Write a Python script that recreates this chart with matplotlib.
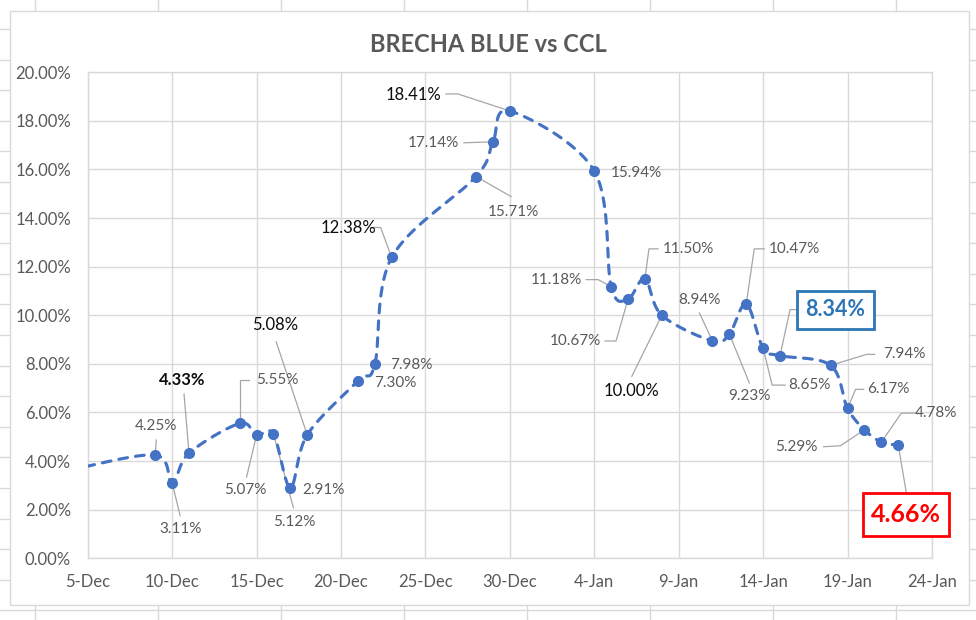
import datetime as dt
import numpy as np
import matplotlib
matplotlib.use('Agg')
import matplotlib.pyplot as plt
import matplotlib.dates as mdates
from matplotlib.lines import Line2D
from matplotlib.patches import Rectangle
from matplotlib.ticker import FuncFormatter, FixedLocator

plt.rcParams['font.family'] = ['Lato', 'DejaVu Sans']

# ---------------- data ----------------
TITLE = 'BRECHA BLUE vs CCL'
dates = ['2020-12-04', '2020-12-09', '2020-12-10', '2020-12-11', '2020-12-14',
         '2020-12-15', '2020-12-16', '2020-12-17', '2020-12-18', '2020-12-21',
         '2020-12-22', '2020-12-23', '2020-12-28', '2020-12-29', '2020-12-30',
         '2021-01-04', '2021-01-05', '2021-01-06', '2021-01-07', '2021-01-08',
         '2021-01-11', '2021-01-12', '2021-01-13', '2021-01-14', '2021-01-15',
         '2021-01-18', '2021-01-19', '2021-01-20', '2021-01-21', '2021-01-22']
values = [3.64, 4.25, 3.11, 4.33, 5.55,
          5.07, 5.12, 2.91, 5.08, 7.30,
          7.98, 12.38, 15.71, 17.14, 18.41,
          15.94, 11.18, 10.67, 11.50, 10.00,
          8.94, 9.23, 10.47, 8.65, 8.34,
          7.94, 6.17, 5.29, 4.78, 4.66]
x_start = '2020-12-05'
x_end = '2021-01-24'
x_tick_step_days = 5
y_ticks = [0, 2, 4, 6, 8, 10, 12, 14, 16, 18, 20]

# ---------------- label styles (pixel offsets from point, y down) ----------------
# (text_dx, text_dy, leader path, kind); None = no label
label_style = [
    None,
    (1, -29, [(1, -15), (0, 0)], 'gray'),
    (8, 46, [(8, 33), (0, 0)], 'gray'),
    (-7, -73, [(-5, -59), (0, 0)], 'bold'),
    (38, -43, [(9, -43), (0, -43), (0, 0)], 'gray'),
    (-11, 55, [(-10, 42), (0, 0)], 'gray'),
    (21, 88, [(20, 74), (0, 0)], 'gray'),
    (33, 2, None, 'gray'),
    (-32, -110, [(-31, -93), (0, 0)], 'black'),
    (37, 2, None, 'gray'),
    (37, 1, None, 'gray'),
    (-43, -29, [(-21, -30), (-11, -30), (0, 0)], 'black'),
    (37, 35, [(35, 20), (0, 0)], 'gray'),
    (-60, 1, [(-29, 1), (0, 0)], 'gray'),
    (-96, -16, [(-64, -17), (-52, -17), (0, 0)], 'black'),
    (42, 2, None, 'gray'),
    (-55, -7, [(-25, -7), (-13, -7), (0, 0)], 'gray'),
    (-53, 42, [(-23, 42), (-12, 42), (0, 0)], 'gray'),
    (43, -30, [(13, -30), (4, -30), (0, 0)], 'gray'),
    (-30, 76, [(-30, 61), (0, 0)], 'black'),
    (-13, -41, [(-13, -28), (0, 0)], 'gray'),
    (20, 62, [(20, 49), (0, 0)], 'gray'),
    (48, -55, [(18, -55), (8, -55), (0, 0)], 'gray'),
    (46, 37, [(22, 37), (9, 37), (0, 0)], 'gray'),
    (55, -46, [(17, -46), (10, -46), (0, 0)], 'bluebox'),
    (74, -11, [(44, -11), (36, -11), (0, 0)], 'gray'),
    (41, -19, [(16, -19), (8, -19), (0, 0)], 'gray'),
    (-68, 17, [(-41, 17), (-24, 16), (0, 0)], 'gray'),
    (55, -29, [(33, -29), (20, -29), (0, 0)], 'gray'),
    (8, 69, [(8, 47), (0, 0)], 'redbox'),
]
kind_fmt = {
    'gray': dict(color='#595959', fontsize=11),
    'black': dict(color='#0d0d0d', fontsize=12),
    'bold': dict(color='#0d0d0d', fontsize=12, fontweight='bold'),
    'bluebox': dict(color='#2E75B6', fontsize=15.5, fontweight='bold'),
    'redbox': dict(color='#FF0000', fontsize=18, fontweight='bold'),
}
box_size = {'bluebox': (77, 38, '#2E75B6'), 'redbox': (86, 43, '#FF0000')}

W, H = 976, 620
fig = plt.figure(figsize=(W / 100, H / 100), dpi=100)
fig.patch.set_facecolor('white')

def fx(x):
    return x / W

def fy(y):
    return 1 - y / H

# spreadsheet grid behind the chart
sheet_col = '#d9d9d9'
for k in range(9):
    x = 35 + 123 * k
    fig.add_artist(Line2D([fx(x), fx(x)], [0, 1], transform=fig.transFigure,
                          color=sheet_col, lw=1, zorder=-3))
for k in range(21):
    y = 29 + 30.6 * k
    fig.add_artist(Line2D([0, 1], [fy(y), fy(y)], transform=fig.transFigure,
                          color=sheet_col, lw=1, zorder=-3))
# chart area
fig.add_artist(Rectangle((fx(10), fy(605)), fx(969) - fx(10), fy(11) - fy(605),
                         transform=fig.transFigure, facecolor='white',
                         edgecolor='#d9d9d9', lw=1, zorder=-2))

ax = fig.add_axes([fx(87.7), fy(558.3), fx(932) - fx(87.7), fy(72.3) - fy(558.3)])
ax.set_facecolor('white')

xn = mdates.date2num([dt.datetime.fromisoformat(d) for d in dates])
yv = np.array(values)
x0 = mdates.date2num(dt.datetime.fromisoformat(x_start))
x1 = mdates.date2num(dt.datetime.fromisoformat(x_end))
ax.set_xlim(x0, x1)
ax.set_ylim(y_ticks[0], y_ticks[-1])

xt = np.arange(x0, x1 + 0.5, x_tick_step_days)
ax.xaxis.set_major_locator(FixedLocator(xt))
ax.xaxis.set_major_formatter(FuncFormatter(
    lambda v, p: f"{mdates.num2date(v).day}-{mdates.num2date(v).strftime('%b')}"))
ax.yaxis.set_major_locator(FixedLocator(y_ticks))
ax.yaxis.set_major_formatter(FuncFormatter(lambda v, p: f"{v:.2f}%"))
ax.tick_params(axis='both', length=0, labelsize=12, labelcolor='#595959')
ax.tick_params(axis='x', pad=11)
ax.tick_params(axis='y', pad=12)
ax.grid(True, color='#d9d9d9', lw=1)
ax.set_axisbelow(True)
for s in ax.spines.values():
    s.set_color('#d9d9d9')
    s.set_linewidth(1)

fig.text(fx(488), fy(44), TITLE, ha='center', va='center', fontsize=17,
         fontweight='bold', color='#595959')

# smoothed line (Excel-like Catmull-Rom in display space)
P = ax.transData.transform(np.column_stack([xn, yv]))
n = len(P)
t = np.linspace(0, 1, 40)[:, None]
segs = []
for i in range(n - 1):
    p0 = P[max(i - 1, 0)]
    p1 = P[i]
    p2 = P[i + 1]
    p3 = P[min(i + 2, n - 1)]
    c1 = p1 + (p2 - p0) / 6
    c2 = p2 - (p3 - p1) / 6
    b = ((1 - t) ** 3) * p1 + 3 * ((1 - t) ** 2) * t * c1 + 3 * (1 - t) * t ** 2 * c2 + t ** 3 * p2
    segs.append(b if i == 0 else b[1:])
curve = ax.transData.inverted().transform(np.vstack(segs))
ax.plot(curve[:, 0], curve[:, 1], color='#4472C4', lw=2.25,
        ls=(0, (2.8, 2.6)), dash_capstyle='round', zorder=3)
ax.plot(xn, yv, 'o', color='#4472C4', ms=7, zorder=4)

inv = ax.transData.inverted()
for i, st in enumerate(label_style):
    if st is None:
        continue
    tdx, tdy, path, kind = st
    px, py = P[i]
    if path:
        pts = np.array([[px + dx, py - dy] for dx, dy in path])
        d = inv.transform(pts)
        ax.plot(d[:, 0], d[:, 1], color='#a6a6a6', lw=0.9, zorder=2, clip_on=False)
    if kind in box_size:
        bw, bh, bc = box_size[kind]
        cx, cy = px + tdx, py - tdy
        corner = inv.transform([[cx - bw / 2, cy - bh / 2], [cx + bw / 2, cy + bh / 2]])
        ax.add_patch(Rectangle(corner[0], corner[1][0] - corner[0][0],
                               corner[1][1] - corner[0][1], facecolor='white',
                               edgecolor=bc, lw=2, zorder=5, clip_on=False))
    ax.annotate(f"{values[i]:.2f}%", xy=(xn[i], yv[i]), xycoords='data',
                xytext=(tdx, -tdy), textcoords='offset pixels',
                ha='center', va='center', zorder=6, annotation_clip=False,
                **kind_fmt[kind])

fig.savefig('out.png', dpi=100, facecolor='white')
